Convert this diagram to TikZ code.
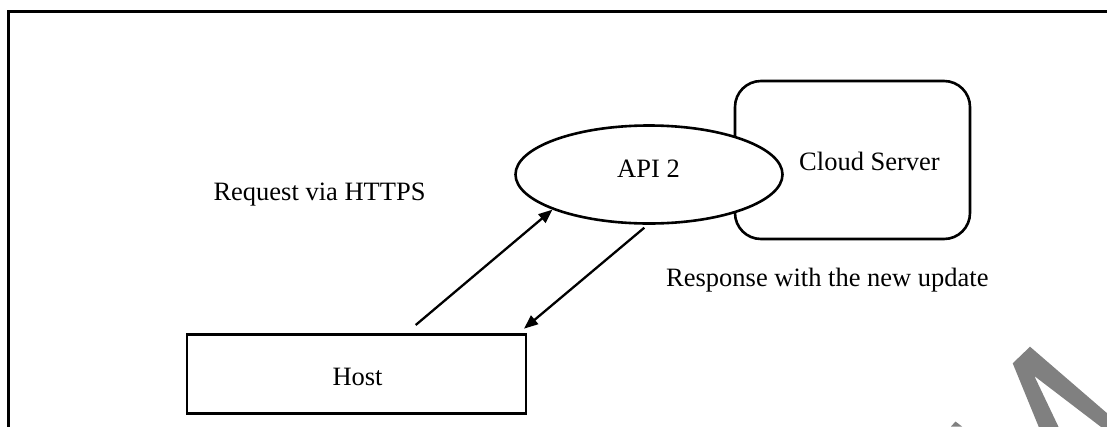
\documentclass[tikz,border=0pt]{standalone}
\usepackage{fontspec}
\setmainfont{Liberation Serif}
\usetikzlibrary{arrows.meta,shapes.geometric}
\definecolor{markgray}{RGB}{128,128,128}
\tikzset{>/.tip={Triangle[length=14pt,width=11pt]},
  hostbox/.style={draw, line width=2.6pt, minimum width=339pt, minimum height=79pt},
  apinode/.style={ellipse, draw, fill=white, line width=2.6pt, minimum width=267pt, minimum height=98pt, inner sep=0pt},
  cloudbox/.style={draw, rounded corners=26pt, line width=2.6pt, minimum width=235pt, minimum height=158pt},
  txt/.style={inner sep=0pt, anchor=base west},
  flow/.style={->, line width=2.3pt}}

\begin{document}
\begin{tikzpicture}[x=1pt, y=-1pt, font=\fontsize{26.5}{32}\selectfont]
\useasboundingbox (0,0) rectangle (1107,426);
\clip (0,0) rectangle (1107,426);
\draw[line width=3pt] (8.5,11.5) rectangle (1130,450);

\node[cloudbox] (cloud) at (852.5,160) {};
\node[apinode] (api) at (649,174.5) {};
\node[hostbox] (host) at (356.5,373.8) {};

\node[txt] (apitxt) at (617,177.3) {API 2};
\node[txt] (cloudtxt) at (799,170) {Cloud Server};
\node[txt] (hosttxt) at (332.3,385) {Host};
\node[txt] (req) at (213.3,200.7) {Request via HTTPS};
\node[txt] (resp) at (666,286.5) {Response with the new update};

\coordinate (reqstart) at (415.7,325);
\coordinate (respstart) at (644.3,227.7);
\draw[flow] (reqstart) -- (api.200);
\draw[flow] (respstart) -- ([shift={(-3.3,-4.3)}]host.north east);

% grey letter strokes in the lower right corner
\fill[markgray] (1040,430) -- (1012.7,363.3) -- (1030,346.7) -- (1130,433)
  -- (1105,430) -- (1034.3,376) -- (1060,430) -- cycle;
\fill[markgray] (951,426.5) -- (955.5,421.5) -- (962,426.5) -- cycle;
\end{tikzpicture}
\end{document}
